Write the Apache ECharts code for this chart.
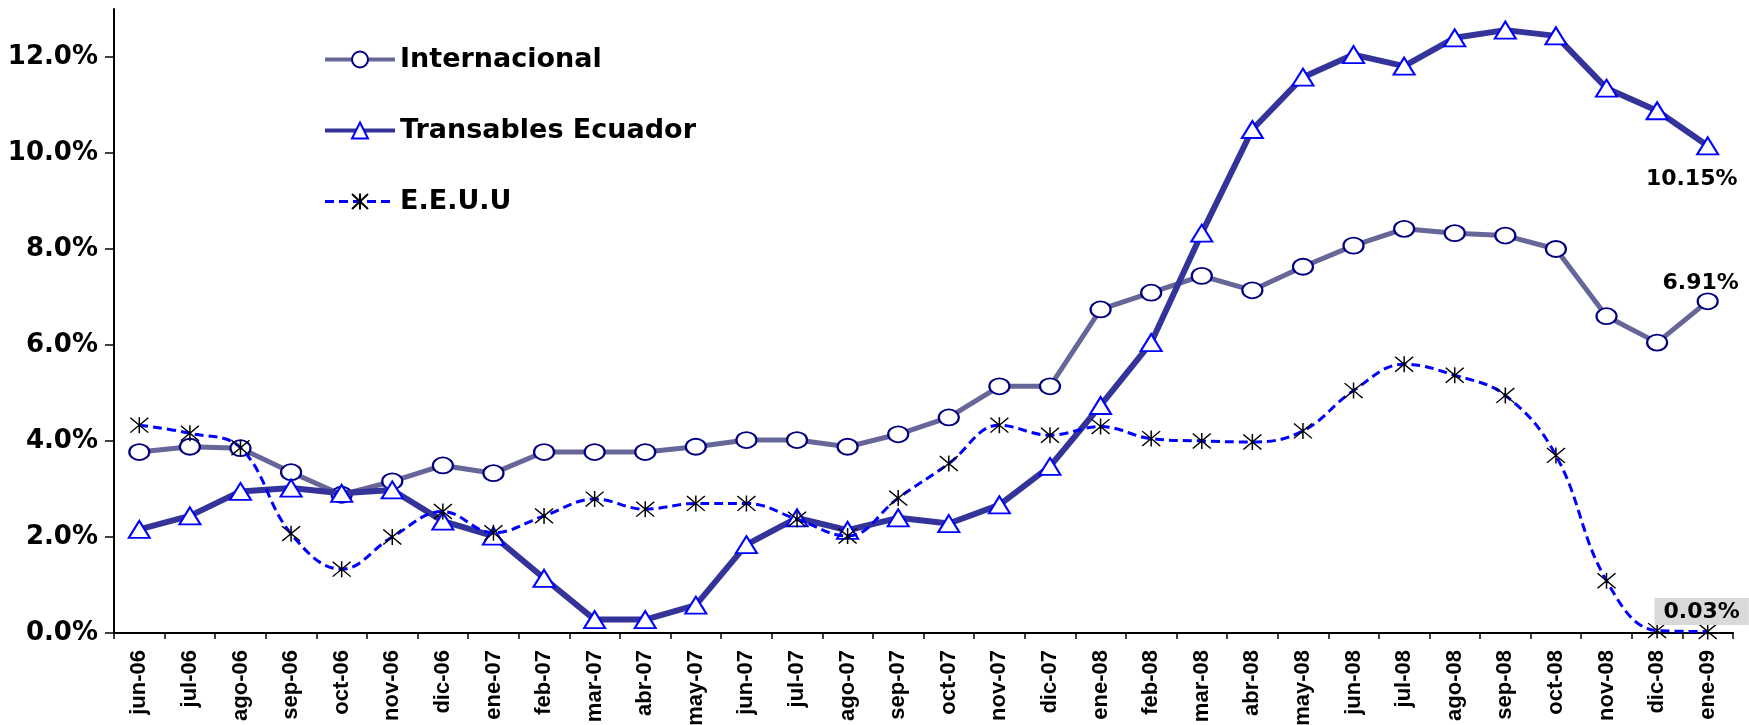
<!DOCTYPE html>
<html>
<head>
<meta charset="utf-8">
<script src="https://cdn.jsdelivr.net/npm/echarts@6/dist/echarts.min.js"></script>
<style>
html,body{margin:0;padding:0;background:#fff;}
#chart{width:1749px;height:725px;}
</style>
</head>
<body>
<div id="chart"></div>
<script>
const categories = ['jun-06','jul-06','ago-06','sep-06','oct-06','nov-06','dic-06','ene-07','feb-07','mar-07','abr-07','may-07','jun-07','jul-07','ago-07','sep-07','oct-07','nov-07','dic-07','ene-08','feb-08','mar-08','abr-08','may-08','jun-08','jul-08','ago-08','sep-08','oct-08','nov-08','dic-08','ene-09'];
const seriesNames = ['Internacional','Transables Ecuador','E.E.U.U'];
const internacional = [3.77,3.88,3.85,3.35,2.88,3.16,3.49,3.33,3.77,3.77,3.77,3.88,4.02,4.02,3.88,4.14,4.49,5.14,5.14,6.74,7.09,7.44,7.14,7.63,8.07,8.42,8.33,8.28,8.00,6.60,6.05,6.91];
const transables = [2.16,2.44,2.95,3.02,2.91,2.98,2.33,2.02,1.14,0.28,0.28,0.58,1.84,2.40,2.14,2.40,2.28,2.67,3.47,4.74,6.05,8.33,10.49,11.58,12.05,11.81,12.40,12.56,12.44,11.35,10.88,10.15];
const eeuu = [4.33,4.16,3.86,2.07,1.33,2.00,2.53,2.09,2.44,2.79,2.58,2.70,2.70,2.37,2.02,2.81,3.53,4.33,4.12,4.30,4.05,4.00,3.98,4.21,5.05,5.60,5.37,4.95,3.70,1.09,0.05,0.03];
const yMin = 0, yMax = 13, yInterval = 2;

const wide = 'DejaVu Sans';
const narrow = '"Liberation Sans", Arial, sans-serif';
const circlePath = 'path://M0,10A10,10,0,1,1,20,10A10,10,0,1,1,0,10Z';
const starPath = 'path://M0,0L16,14M16,0L0,14M8,-0.5L8,14.5';

const lineStyles = [
  { color: '#666699', width: 5 },
  { color: '#333399', width: 6 },
  { color: '#0000ff', width: 3, type: [9, 5] }
];

function withLastLabel(arr, label) {
  return arr.map((v, i) => i === arr.length - 1 ? { value: v, label: Object.assign({ show: true, formatter: p => p.value.toFixed(2) + '%', color: '#000', fontFamily: wide, fontWeight: 'bold', fontSize: 22 }, label) } : v);
}

const chart = echarts.init(document.getElementById('chart'), null, { renderer: 'canvas' });
chart.setOption({
  animation: false,
  backgroundColor: '#ffffff',
  grid: { left: 114, right: 16, top: 9, bottom: 92, containLabel: false, outerBoundsMode: 'none' },
  legend: {
    orient: 'vertical',
    left: 323, top: 46,
    padding: 0,
    itemWidth: 70, itemHeight: 20, itemGap: 44,
    data: seriesNames.map((n, i) => ({ name: n, lineStyle: Object.assign({}, lineStyles[i], { width: Math.min(lineStyles[i].width, 4) }) })),
    textStyle: { fontFamily: wide, fontWeight: 'bold', fontSize: 27, color: '#000', lineHeight: 20 }
  },
  xAxis: {
    type: 'category',
    data: categories,
    boundaryGap: true,
    axisLine: { show: true, lineStyle: { color: '#000', width: 2 } },
    axisTick: { show: true, length: 6, lineStyle: { color: '#000', width: 1.5 } },
    axisLabel: { rotate: 90, interval: 0, margin: 17, color: '#000', fontFamily: narrow, fontWeight: 'bold', fontSize: 22 },
    splitLine: { show: false }
  },
  yAxis: {
    type: 'value',
    min: yMin, max: yMax, interval: yInterval,
    axisLine: { show: true, lineStyle: { color: '#000', width: 2 } },
    axisTick: { show: true, length: 9, lineStyle: { color: '#000', width: 1.5 } },
    axisLabel: { margin: 16, color: '#000', fontFamily: wide, fontWeight: 'bold', fontSize: 26, showMaxLabel: false,
      formatter: v => (v % yInterval === 0) ? v.toFixed(1) + '%' : '' },
    splitLine: { show: false }
  },
  series: [
    {
      name: seriesNames[0], type: 'line',
      data: withLastLabel(internacional, { position: 'top', distance: 2, offset: [-7, 4] }),
      symbol: circlePath, symbolSize: [20, 16], showAllSymbol: true,
      lineStyle: lineStyles[0],
      itemStyle: { color: '#ffffff', borderColor: '#000080', borderWidth: 2 },
      z: 2
    },
    {
      name: seriesNames[1], type: 'line',
      data: withLastLabel(transables, { position: 'bottom', distance: 13, offset: [-16, 0] }),
      symbol: 'triangle', symbolSize: [21, 17], showAllSymbol: true,
      lineStyle: lineStyles[1],
      itemStyle: { color: '#ffffff', borderColor: '#0000ff', borderWidth: 2 },
      z: 3
    },
    {
      name: seriesNames[2], type: 'line',
      data: withLastLabel(eeuu, { position: 'top', distance: 0, offset: [-6, 2], backgroundColor: '#d9d9d9', padding: [3, 9, 2, 9] }),
      symbol: starPath, symbolSize: [18, 16], showAllSymbol: true,
      smooth: 0.4,
      lineStyle: lineStyles[2],
      itemStyle: { color: '#000000', borderColor: '#000000', borderWidth: 1.4 },
      z: 4
    }
  ]
});
</script>
</body>
</html>
